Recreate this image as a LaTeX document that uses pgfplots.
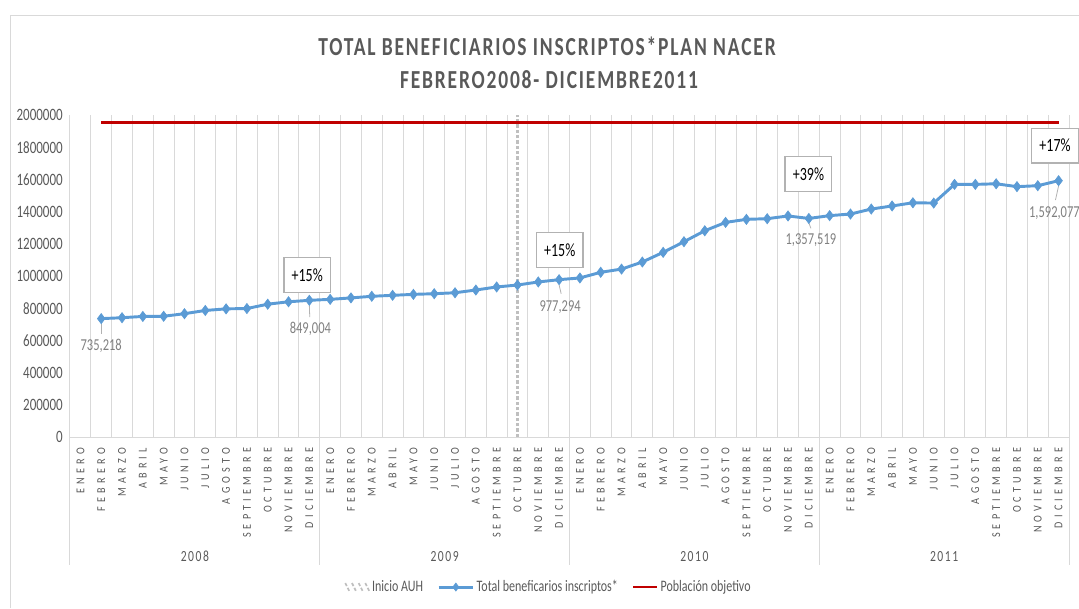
\documentclass[border=0pt]{standalone}
\usepackage{fontspec}
\setmainfont[FakeStretch=0.75]{Carlito}
\newfontfamily\titlef[FakeStretch=0.75,LetterSpace=7]{Carlito}
\newfontfamily\monthf[FakeStretch=0.85,LetterSpace=35]{Carlito}
\newfontfamily\yearf[FakeStretch=0.75,LetterSpace=10]{Carlito}
\usepackage{pgfplots}
\pgfplotsset{compat=1.18}
\definecolor{cblue}{HTML}{5B9BD5}
\definecolor{cred}{HTML}{C00000}
\definecolor{ctxt}{HTML}{595959}
\definecolor{cgrid}{HTML}{D9D9D9}
\definecolor{clab}{HTML}{808080}
\pgfplotsset{
  auhlegend/.style={legend image code/.code={\draw[gray!50, line width=1.3pt] (0pt,3pt)--(3pt,-3pt) (5pt,3pt)--(8pt,-3pt) (10pt,3pt)--(13pt,-3pt) (15pt,3pt)--(18pt,-3pt);}},
  bluelegend/.style={legend image code/.code={\draw[##1, mark=none] (0pt,0pt)--(26pt,0pt); \draw[##1, only marks, mark size=3pt] plot coordinates {(13pt,0pt)};}},
  redlegend/.style={legend image code/.code={\draw[##1] (0pt,0pt)--(18pt,0pt);}},
}
\begin{document}
\begin{tikzpicture}
\path[use as bounding box] (0pt,0pt) rectangle (809.25pt,-456pt);
\begin{axis}[
  at={(52.5pt,-327.75pt)}, anchor=south west,
  scale only axis, width=749.25pt, height=241.5pt,
  xmin=-0.5, xmax=47.5, ymin=0, ymax=2000000,
  clip=false, scaled y ticks=false,
  axis x line*=bottom, axis y line*=left,
  x axis line style={cgrid, line width=0.75pt, -},
  y axis line style={draw=none},
  major tick length=0pt, minor tick length=0pt,
  xtick={-0.5,0.5,...,47.5}, xticklabels={},
  xmajorgrids, major grid style={cgrid, line width=0.75pt},
  extra x ticks={0,...,47},
  extra x tick labels={ENERO,FEBRERO,MARZO,ABRIL,MAYO,JUNIO,JULIO,AGOSTO,SEPTIEMBRE,OCTUBRE,NOVIEMBRE,DICIEMBRE,ENERO,FEBRERO,MARZO,ABRIL,MAYO,JUNIO,JULIO,AGOSTO,SEPTIEMBRE,OCTUBRE,NOVIEMBRE,DICIEMBRE,ENERO,FEBRERO,MARZO,ABRIL,MAYO,JUNIO,JULIO,AGOSTO,SEPTIEMBRE,OCTUBRE,NOVIEMBRE,DICIEMBRE,ENERO,FEBRERO,MARZO,ABRIL,MAYO,JUNIO,JULIO,AGOSTO,SEPTIEMBRE,OCTUBRE,NOVIEMBRE,DICIEMBRE},
  extra x tick style={grid=none, xticklabel style={rotate=90, anchor=east, inner xsep=8pt, inner ysep=0pt, font=\monthf\fontsize{9pt}{10pt}\selectfont, text=ctxt}},
  ytick={0,200000,400000,600000,800000,1000000,1200000,1400000,1600000,1800000,2000000},
  yticklabels={0,200000,400000,600000,800000,1000000,1200000,1400000,1600000,1800000,2000000},
  yticklabel style={font=\fontsize{13pt}{15pt}\selectfont, text=ctxt, inner xsep=0pt, xshift=-5.25pt},
  legend style={at={(0.479,-0.466)}, anchor=center, draw=none, fill=none,
    font=\fontsize{12pt}{14pt}\selectfont, text=ctxt, inner sep=0pt,
    nodes={inner xsep=1.5pt, inner ysep=1pt},
    /tikz/every even column/.append style={column sep=9pt}},
  legend columns=3, legend cell align=left,
]
\addplot[gray!50, line width=2.6pt, dash pattern=on 2.5pt off 1.5pt, auhlegend]
  coordinates {(21,0) (21,2000000)};
\addlegendentry{Inicio AUH}
\addplot[cblue, line width=2.2pt, mark=diamond*, mark size=3.8pt, mark options={solid, fill=cblue, line width=0.5pt}, bluelegend]
  coordinates {
  (1,735218) (2,741000) (3,749000) (4,750000) (5,766000) (6,786000) (7,796000) (8,798000)
  (9,825000) (10,840000) (11,849004) (12,855000) (13,864000) (14,874000) (15,880000) (16,886000)
  (17,890000) (18,896000) (19,913000) (20,932000) (21,944000) (22,963000) (23,977294) (24,988000)
  (25,1023000) (26,1043000) (27,1087000) (28,1147000) (29,1213000) (30,1281000) (31,1333000) (32,1352000)
  (33,1356000) (34,1373000) (35,1357519) (36,1375000) (37,1385000) (38,1416000) (39,1435000) (40,1455000)
  (41,1453000) (42,1569000) (43,1569000) (44,1573000) (45,1555000) (46,1561000) (47,1592077)
  };
\addlegendentry{Total beneficarios inscriptos*}
\addplot[cred, line width=2pt, redlegend]
  coordinates {(1,1955000) (47,1955000)};
\addlegendentry{Población objetivo}
% year group separators and labels
\draw[cgrid, line width=0.75pt] (axis cs:-0.5,0) -- ++(0pt,-96pt);
\draw[cgrid, line width=0.75pt] (axis cs:11.5,0) -- ++(0pt,-96pt);
\draw[cgrid, line width=0.75pt] (axis cs:23.5,0) -- ++(0pt,-96pt);
\draw[cgrid, line width=0.75pt] (axis cs:35.5,0) -- ++(0pt,-96pt);
\draw[cgrid, line width=0.75pt] (axis cs:47.5,0) -- ++(0pt,-96pt);
\node[font=\yearf\fontsize{11.6pt}{13pt}\selectfont, text=ctxt] at ([yshift=-89.5pt]axis cs:5.5,0) {2008};
\node[font=\yearf\fontsize{11.6pt}{13pt}\selectfont, text=ctxt] at ([yshift=-89.5pt]axis cs:17.5,0) {2009};
\node[font=\yearf\fontsize{11.6pt}{13pt}\selectfont, text=ctxt] at ([yshift=-89.5pt]axis cs:29.5,0) {2010};
\node[font=\yearf\fontsize{11.6pt}{13pt}\selectfont, text=ctxt] at ([yshift=-89.5pt]axis cs:41.5,0) {2011};
% data labels with leader lines
\draw[gray!60, line width=0.6pt] (axis cs:1,705000) -- (axis cs:1,640000);
\node[font=\fontsize{12.5pt}{14pt}\selectfont, text=clab] at (axis cs:1,565000) {735,218};
\draw[gray!60, line width=0.6pt] (axis cs:11,818000) -- (axis cs:11.02,745000);
\node[font=\fontsize{12.5pt}{14pt}\selectfont, text=clab] at (axis cs:11.05,669000) {849,004};
\draw[gray!60, line width=0.6pt] (axis cs:23,945000) -- (axis cs:23.1,890000);
\node[font=\fontsize{12.5pt}{14pt}\selectfont, text=clab] at (axis cs:23.05,809000) {977,294};
\draw[gray!60, line width=0.6pt] (axis cs:35,1330000) -- (axis cs:35.1,1296000);
\node[font=\fontsize{12.5pt}{14pt}\selectfont, text=clab] at (axis cs:35.1,1224000) {1,357,519};
\draw[gray!60, line width=0.6pt] (axis cs:47,1560000) -- (axis cs:46.85,1472000);
\node[font=\fontsize{12.5pt}{14pt}\selectfont, text=clab] at (axis cs:46.8,1393000) {1,592,077};
% percentage boxes
\node[draw=gray!60, line width=1pt, fill=white, minimum width=35pt, minimum height=26pt, font=\fontsize{14pt}{16pt}\selectfont] at (axis cs:10.9,1006000) {+15\%};
\node[draw=gray!60, line width=1pt, fill=white, minimum width=35pt, minimum height=26pt, font=\fontsize{14pt}{16pt}\selectfont] at (axis cs:23.03,1161000) {+15\%};
\node[draw=gray!60, line width=1pt, fill=white, minimum width=35pt, minimum height=26pt, font=\fontsize{14pt}{16pt}\selectfont] at (axis cs:34.98,1633000) {+39\%};
\node[draw=gray!60, line width=1pt, fill=white, minimum width=35pt, minimum height=26pt, font=\fontsize{14pt}{16pt}\selectfont] at (axis cs:46.83,1810000) {+17\%};
\end{axis}
\begin{scope}[x=0.75pt, y=-0.75pt]
\draw[cgrid, line width=0.75pt] (10,608) -- (10,15) -- (1079,15);
\node[font=\titlef\bfseries\fontsize{19.5pt}{22pt}\selectfont, text=ctxt] at (547,46.5) {TOTAL BENEFICIARIOS INSCRIPTOS*PLAN NACER};
\node[font=\titlef\bfseries\fontsize{19.5pt}{22pt}\selectfont, text=ctxt] at (549,80) {FEBRERO2008- DICIEMBRE2011};
\end{scope}
\end{tikzpicture}
\end{document}
